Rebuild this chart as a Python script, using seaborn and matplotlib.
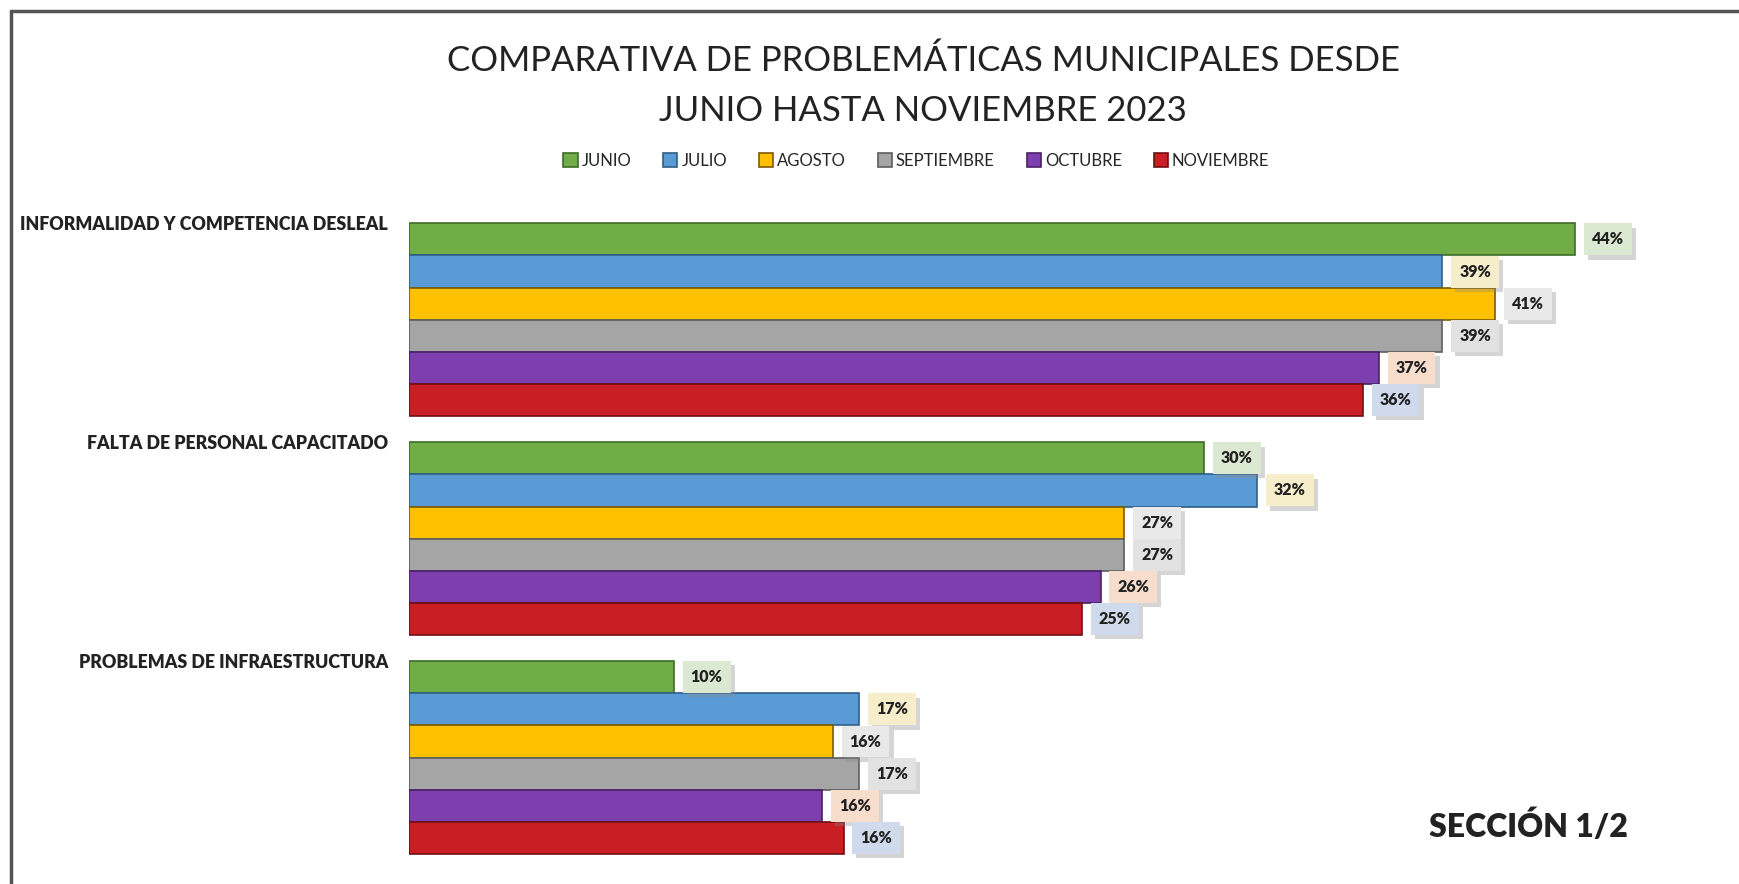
import matplotlib.pyplot as plt
import matplotlib.patheffects as pe
import pandas as pd
import seaborn as sns

categorias = [
    "INFORMALIDAD Y COMPETENCIA DESLEAL",
    "FALTA DE PERSONAL CAPACITADO",
    "PROBLEMAS DE INFRAESTRUCTURA",
]
meses = ["JUNIO", "JULIO", "AGOSTO", "SEPTIEMBRE", "OCTUBRE", "NOVIEMBRE"]
junio = [44, 30, 10]
julio = [39, 32, 17]
agosto = [41, 27, 16]
septiembre = [39, 27, 17]
octubre = [36.6, 26.1, 15.6]
noviembre = [36.0, 25.4, 16.4]

colores = ["#70AD47", "#5B9BD5", "#FFC000", "#A5A5A5", "#7E3FAE", "#C81E24"]
bordes = ["#3E6B27", "#2F5F8A", "#7A5C00", "#5E5E5E", "#4A2068", "#6E1014"]
fondos_etiqueta = ["#DCE9D2", "#F6EDCB", "#E9E9E9", "#E2E2E2", "#F6DDCC", "#CFDBEC"]

valores = [junio, julio, agosto, septiembre, octubre, noviembre]
df = pd.DataFrame(
    [(c, m, v[i]) for m, v in zip(meses, valores) for i, c in enumerate(categorias)],
    columns=["categoria", "mes", "valor"],
)

sns.set_theme(style="white")
plt.rcParams["font.family"] = ["Lato", "DejaVu Sans"]

fig = plt.figure(figsize=(17.39, 8.84), dpi=100)
ax = fig.add_axes([0.2352, 0.0192, 0.7619, 0.743])

ancho = 0.88
sns.barplot(
    data=df, y="categoria", x="valor", hue="mes", order=categorias, hue_order=meses,
    palette=colores, orient="h", width=ancho, gap=0, ax=ax, legend=True, saturation=1,
)

for cont, borde, fondo in zip(ax.containers, bordes, fondos_etiqueta):
    for barra in cont:
        barra.set_edgecolor(borde)
        barra.set_linewidth(1.2)
        w = barra.get_width()
        yc = barra.get_y() + barra.get_height() / 2
        t = ax.annotate(
            f"{w:.0f}%", (w, yc), xytext=(12, 0), textcoords="offset points",
            ha="left", va="center", fontsize=11.5, fontweight="heavy", color="#222222",
            bbox=dict(boxstyle="square,pad=0.5", fc=fondo, ec="none"),
        )
        t.get_bbox_patch().set_path_effects([
            pe.SimplePatchShadow(offset=(3, -3), shadow_rgbFace="#888888", alpha=0.35),
            pe.Normal(),
        ])

ax.set_xlim(0, 50)
ax.set_ylim(2.5, -0.5)
ax.set_xticks([])
ax.set_xlabel("")
ax.set_ylabel("")
ax.set_yticks([i - ancho / 2 for i in range(len(categorias))])
ax.set_yticklabels(categorias, fontsize=12.8, fontweight="heavy", color="#222222")
ax.tick_params(axis="y", length=0, pad=15)
sns.despine(ax=ax, left=True, bottom=True)

handles, labels = ax.get_legend_handles_labels()
ax.legend(
    handles, labels, ncol=6, loc="center", bbox_to_anchor=(0.527, 0.818),
    bbox_transform=fig.transFigure, frameon=False, fontsize=12,
    handlelength=0.85, handleheight=0.85, handletextpad=0.25, columnspacing=1.9,
)
for h, borde in zip(ax.get_legend().legend_handles, bordes):
    h.set_edgecolor(borde)
    h.set_linewidth(1.2)

fig.text(0.531, 0.931, "COMPARATIVA DE PROBLEMÁTICAS MUNICIPALES DESDE",
         ha="center", va="center", fontsize=25, color="#222222")
fig.text(0.531, 0.874, "JUNIO HASTA NOVIEMBRE 2023",
         ha="center", va="center", fontsize=25, color="#222222")
fig.text(0.879, 0.066, "SECCIÓN 1/2", ha="center", va="center",
         fontsize=23, fontweight="heavy", color="#222222")

# marco superior e izquierdo
fig.add_artist(plt.Line2D([0.0063, 0.0063], [0, 0.988], color="#555555", lw=2.5))
fig.add_artist(plt.Line2D([0.0063, 1], [0.988, 0.988], color="#555555", lw=2.5))

fig.savefig("out.png", dpi=100)
plt.close(fig)
